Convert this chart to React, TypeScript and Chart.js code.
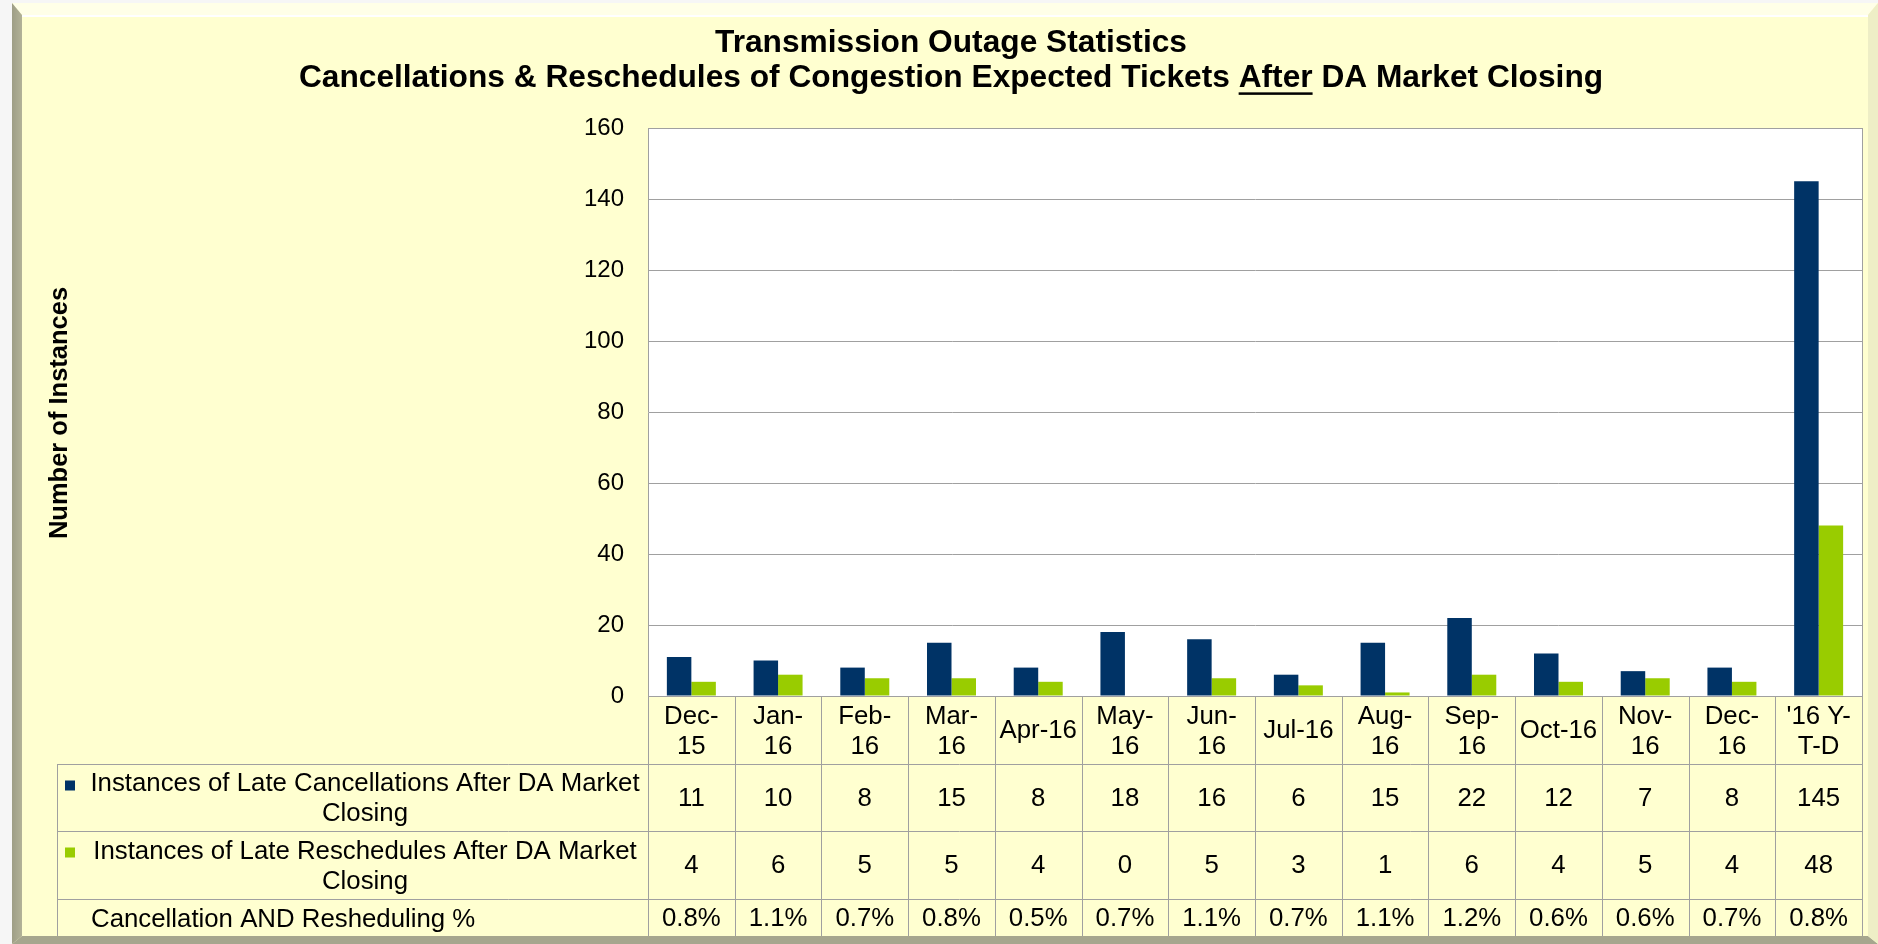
import React, { useEffect, useRef } from 'react';
import { Chart, registerables } from 'chart.js';

Chart.register(...registerables);

// ---------------- data ----------------
const titleLine1 = 'Transmission Outage Statistics';
const titleLine2Before = 'Cancellations & Reschedules of Congestion Expected Tickets ';
const titleLine2Underlined = 'After';
const titleLine2After = ' DA Market Closing';
const yAxisTitle = 'Number of Instances';

const categories = ['Dec-15', 'Jan-16', 'Feb-16', 'Mar-16', 'Apr-16', 'May-16', 'Jun-16', 'Jul-16', 'Aug-16', 'Sep-16', 'Oct-16', 'Nov-16', 'Dec-16', "'16 Y-T-D"];
const categoryLines = [
  ['Dec-', '15'], ['Jan-', '16'], ['Feb-', '16'], ['Mar-', '16'], ['Apr-16'], ['May-', '16'], ['Jun-', '16'],
  ['Jul-16'], ['Aug-', '16'], ['Sep-', '16'], ['Oct-16'], ['Nov-', '16'], ['Dec-', '16'], ["'16 Y-", 'T-D'],
];
const lateCancellations = [11, 10, 8, 15, 8, 18, 16, 6, 15, 22, 12, 7, 8, 145];
const lateReschedules = [4, 6, 5, 5, 4, 0, 5, 3, 1, 6, 4, 5, 4, 48];
const combinedPct = ['0.8%', '1.1%', '0.7%', '0.8%', '0.5%', '0.7%', '1.1%', '0.7%', '1.1%', '1.2%', '0.6%', '0.6%', '0.7%', '0.8%'];
const seriesNames = [
  ['Instances of Late Cancellations After DA Market', 'Closing'],
  ['Instances of Late Reschedules After DA Market', 'Closing'],
];
const pctRowLabel = 'Cancellation AND Resheduling %';
const yMin = 0;
const yMax = 160;
const yStep = 20;

// ---------------- style ----------------
const W = 1878;
const H = 944;
const FONT = "'Liberation Sans', Arial, Helvetica, sans-serif";
const NAVY = '#003366';
const GREEN = '#99CC00';
const LINE = '#A0A0A0';
const PANEL = '#FFFFD0';
const PLOT_LEFT = 648;
const PLOT_RIGHT = 1862;
const PLOT_TOP = 128;
const PLOT_BOTTOM = 696;
const TABLE_LEFT = 57;
const ROW_H = [68, 67, 68, 37];
const TABLE_FS = 25.8;
const TITLE_FS = 31.7;

function poly(ctx: CanvasRenderingContext2D, pts: number[][], fill: string | CanvasGradient) {
  ctx.beginPath();
  ctx.moveTo(pts[0][0], pts[0][1]);
  for (let i = 1; i < pts.length; i++) ctx.lineTo(pts[i][0], pts[i][1]);
  ctx.closePath();
  ctx.fillStyle = fill;
  ctx.fill();
}

const framePlugin = {
  id: 'frame',
  beforeDraw(chart: any) {
    const ctx: CanvasRenderingContext2D = chart.ctx;
    const ca = chart.chartArea;
    ctx.save();
    ctx.fillStyle = '#F6F6F6';
    ctx.fillRect(0, 0, W, H);
    const L = 12, T = 3, R = W, B = H;
    ctx.fillStyle = PANEL;
    ctx.fillRect(L, T, R - L, B - T);
    // top bevel
    poly(ctx, [[L, T], [R, T], [R - 10, T + 12], [L + 10, T + 12]], '#FFFFE8');
    ctx.fillStyle = '#FFFFFF';
    ctx.fillRect(L + 10, T + 12, R - L - 20, 2);
    // left bevel
    const lg = ctx.createLinearGradient(L, 0, L + 10, 0);
    lg.addColorStop(0, '#9E9E86');
    lg.addColorStop(1, '#B2B298');
    poly(ctx, [[L, T], [L + 10, T + 12], [L + 10, B - 8], [L, B]], lg);
    // bottom bevel
    poly(ctx, [[L, B], [L + 10, B - 8], [R - 10, B - 8], [R, B]], '#A6A68E');
    // right bevel
    poly(ctx, [[R, T], [R - 10, T + 12], [R - 10, B - 8], [R, B]], '#EEEEC6');
    // plot background
    ctx.fillStyle = '#FFFFFF';
    ctx.fillRect(ca.left, ca.top, ca.right - ca.left, ca.bottom - ca.top);
    ctx.restore();
  },
};

function txt(ctx: CanvasRenderingContext2D, s: string, x: number, cy: number, size: number, align: CanvasTextAlign, bold = false) {
  ctx.font = `${bold ? 'bold ' : ''}${size}px ${FONT}`;
  ctx.textAlign = align;
  ctx.textBaseline = 'alphabetic';
  ctx.fillStyle = '#000000';
  ctx.fillText(s, x, cy + size * 0.358);
}

const tablePlugin = {
  id: 'dataTable',
  afterDraw(chart: any) {
    const ctx: CanvasRenderingContext2D = chart.ctx;
    const ca = chart.chartArea;
    const xs = chart.scales.x;
    const n = categories.length;
    const cw = (ca.right - ca.left) / n;
    const tops = [ca.bottom];
    for (const h of ROW_H) tops.push(tops[tops.length - 1] + h);
    const a = (v: number) => Math.round(v) + 0.5;

    ctx.save();
    ctx.strokeStyle = LINE;
    ctx.lineWidth = 1;
    const seg = (x1: number, y1: number, x2: number, y2: number) => {
      ctx.beginPath();
      ctx.moveTo(x1, y1);
      ctx.lineTo(x2, y2);
      ctx.stroke();
    };
    // plot border top / right
    seg(ca.left, a(ca.top), ca.right, a(ca.top));
    seg(a(ca.right), ca.top, a(ca.right), tops[4]);
    // column separators
    for (let k = 0; k <= n; k++) {
      const x = a(ca.left + k * cw);
      seg(x, ca.bottom, x, tops[4]);
    }
    // table left border
    seg(a(TABLE_LEFT), tops[1], a(TABLE_LEFT), tops[4]);
    // row lines
    for (let r = 1; r <= 3; r++) seg(TABLE_LEFT, a(tops[r]), ca.right, a(tops[r]));

    // header labels
    const hc = (tops[0] + tops[1]) / 2;
    categoryLines.forEach((lines, i) => {
      const x = xs.getPixelForValue(i);
      if (lines.length === 2) {
        txt(ctx, lines[0], x, hc - 15, TABLE_FS, 'center');
        txt(ctx, lines[1], x, hc + 14.5, TABLE_FS, 'center');
      } else {
        txt(ctx, lines[0], x, hc - 1, TABLE_FS, 'center');
      }
    });

    // series rows
    const rowsVals = [lateCancellations.map(String), lateReschedules.map(String), combinedPct];
    const colors = [NAVY, GREEN];
    const labelCx = (TABLE_LEFT + 25 + ca.left) / 2;
    for (let r = 0; r < 3; r++) {
      const top = tops[r + 1];
      const bottom = tops[r + 2];
      const c = (top + bottom) / 2;
      rowsVals[r].forEach((v, i) => {
        txt(ctx, v, xs.getPixelForValue(i), c - 1, TABLE_FS, 'center');
      });
      if (r < 2) {
        ctx.fillStyle = colors[r];
        ctx.fillRect(65, top + 16.5, 10, 10);
        txt(ctx, seriesNames[r][0], labelCx, c - 15.5, TABLE_FS, 'center');
        txt(ctx, seriesNames[r][1], labelCx, c + 14.5, TABLE_FS, 'center');
      } else {
        txt(ctx, pctRowLabel, 91, c, TABLE_FS, 'left');
      }
    }

    // titles
    const tcx = 951;
    txt(ctx, titleLine1, tcx, 40.5, TITLE_FS, 'center', true);
    ctx.font = `bold ${TITLE_FS}px ${FONT}`;
    const w1 = ctx.measureText(titleLine2Before).width;
    const w2 = ctx.measureText(titleLine2Underlined).width;
    const w3 = ctx.measureText(titleLine2After).width;
    const startX = tcx - (w1 + w2 + w3) / 2;
    const cy2 = 75.5;
    txt(ctx, titleLine2Before, startX, cy2, TITLE_FS, 'left', true);
    txt(ctx, titleLine2Underlined, startX + w1, cy2, TITLE_FS, 'left', true);
    txt(ctx, titleLine2After, startX + w1 + w2, cy2, TITLE_FS, 'left', true);
    const base2 = cy2 + TITLE_FS * 0.358;
    ctx.fillStyle = '#000000';
    ctx.fillRect(startX + w1, base2 + 5.5, w2, 2.5);

    // y axis title
    ctx.save();
    ctx.translate(60, 413);
    ctx.rotate(-Math.PI / 2);
    ctx.font = `bold 25.5px ${FONT}`;
    ctx.textAlign = 'center';
    ctx.textBaseline = 'middle';
    ctx.fillStyle = '#000000';
    ctx.fillText(yAxisTitle, 0, 0);
    ctx.restore();

    ctx.restore();
  },
};

export default function App() {
  const ref = useRef<HTMLCanvasElement>(null);
  useEffect(() => {
    document.body.style.margin = '0';
    document.body.style.overflow = 'hidden';
    const canvas = ref.current;
    if (!canvas) return;
    const chart = new Chart(canvas, {
      type: 'bar',
      data: {
        labels: categories,
        datasets: [
          {
            label: seriesNames[0].join(' '),
            data: lateCancellations,
            backgroundColor: NAVY,
            borderWidth: 0,
            categoryPercentage: 0.565,
            barPercentage: 1,
          },
          {
            label: seriesNames[1].join(' '),
            data: lateReschedules,
            backgroundColor: GREEN,
            borderWidth: 0,
            categoryPercentage: 0.565,
            barPercentage: 1,
          },
        ],
      },
      options: {
        animation: false,
        responsive: false,
        maintainAspectRatio: false,
        devicePixelRatio: 1,
        layout: { padding: { top: PLOT_TOP, bottom: H - PLOT_BOTTOM, left: 0, right: W - PLOT_RIGHT } },
        plugins: {
          legend: { display: false },
          title: { display: false },
          tooltip: { enabled: false },
        },
        scales: {
          x: {
            grid: { display: false, drawTicks: false },
            border: { display: true, color: LINE, width: 1 },
            ticks: { display: false },
            afterFit: (s: any) => { s.height = 0; },
          },
          y: {
            min: yMin,
            max: yMax,
            ticks: { stepSize: yStep, padding: 24, color: '#000000', font: { family: FONT, size: 24 } },
            grid: { color: LINE, lineWidth: 1, drawTicks: false },
            border: { display: true, color: LINE, width: 1 },
            afterFit: (s: any) => { s.width = PLOT_LEFT; },
          },
        },
      } as any,
      plugins: [framePlugin, tablePlugin],
    });
    return () => chart.destroy();
  }, []);
  return <canvas ref={ref} width={W} height={H} style={{ display: 'block', width: W, height: H }} />;
}
